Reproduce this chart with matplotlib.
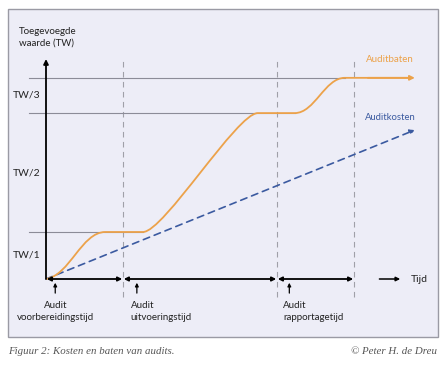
import matplotlib
matplotlib.use("Agg")
import matplotlib.pyplot as plt
from matplotlib.path import Path
from matplotlib.patches import PathPatch, Rectangle

# phases on the time axis (in phase units)
phase_bounds = [0, 1, 3, 4]
phase_labels = ["Audit\nvoorbereidingstijd", "Audit\nuitvoeringstijd", "Audit\nrapportagetijd"]
phase_marks = [0.12, 1.18, 3.16]

# value levels (TW bands)
levels = [0, 1.0, 3.53, 4.28]
level_labels = ["TW/1", "TW/2", "TW/3"]

# Auditbaten: flat steps (start, end of each rise)
baten_t = [0, 0.77, 1.26, 2.75, 3.23, 3.88, 4.79]
baten_v = [0, 1.0, 1.0, 3.53, 3.53, 4.28, 4.28]

# Auditkosten: straight line
kosten_t = [0, 4.79]
kosten_v = [0, 3.17]

ORANGE = "#eca24a"
BLUE = "#3b5aa0"
GRID = "#8c8c98"
FONT = "Lato"

fig = plt.figure(figsize=(4.46, 3.68), dpi=100)
fig.patch.set_facecolor("white")
ax = fig.add_axes([0, 0, 1, 1])
ax.set_xlim(-46 / 77, 400 / 77)
ax.set_ylim(-89 / 47, 279 / 47)
ax.axis("off")

# panel background
ax.add_patch(Rectangle((8 / 446, 1 - 337 / 368), 430 / 446, 328 / 368,
                       transform=fig.transFigure, fc="#ededf7", ec="#9a9aa4",
                       lw=1.0, zorder=0))

# horizontal level lines
ends = [baten_t[2], baten_t[4], baten_t[5]]
for lv, te in zip(levels[1:], ends):
    ax.plot([-0.22, te], [lv, lv], color=GRID, lw=0.8, zorder=2)
for i, lab in enumerate(level_labels):
    ax.text(-0.25, (levels[i] + levels[i + 1]) / 2, lab, ha="center", va="center",
            fontsize=7.5, family=FONT, color="#222222")

# dashed vertical phase lines
for b in phase_bounds[1:]:
    ax.plot([b, b], [-0.38, 4.72], color="#a0a0a8", lw=0.8, ls=(0, (5, 4)), zorder=1)

# y axis
ax.annotate("", xy=(0, 4.68), xytext=(0, 0),
            arrowprops=dict(arrowstyle="-|>", color="black", lw=1.3,
                            mutation_scale=7, shrinkA=0, shrinkB=0), zorder=5)
ax.text(-0.35, 5.14, "Toegevoegde\nwaarde (TW)", ha="left", va="center",
        fontsize=7, family=FONT, linespacing=1.3, color="#222222")

# time axis double arrows
for a, b in zip(phase_bounds[:-1], phase_bounds[1:]):
    ax.annotate("", xy=(b - 0.01, 0), xytext=(a + 0.01, 0),
                arrowprops=dict(arrowstyle="<|-|>", color="black", lw=1.3,
                                mutation_scale=6, shrinkA=0, shrinkB=0), zorder=5)
ax.annotate("", xy=(4.6, 0), xytext=(4.33, 0),
            arrowprops=dict(arrowstyle="-|>", color="black", lw=1.1,
                            mutation_scale=6, shrinkA=0, shrinkB=0))
ax.text(4.74, 0, "Tijd", ha="left", va="center", fontsize=7.5, family=FONT, color="#222222")

# phase markers + labels
for i, (m, lab) in enumerate(zip(phase_marks, phase_labels)):
    ax.annotate("", xy=(m, -0.08), xytext=(m, -0.3),
                arrowprops=dict(arrowstyle="-|>", color="black", lw=0.9,
                                mutation_scale=5, shrinkA=0, shrinkB=0))
    if i == 0:
        ax.text(m, -0.69, lab, ha="center", va="center", fontsize=7, family=FONT,
                linespacing=1.5, multialignment="center", color="#222222")
    else:
        ax.text(m - 0.08, -0.69, lab, ha="left", va="center", fontsize=7, family=FONT,
                linespacing=1.5, color="#222222")

# Auditbaten curve: smooth S-shaped rises between flat parts
verts = [(baten_t[0], baten_v[0])]
codes = [Path.MOVETO]
for j in range(0, len(baten_t) - 1):
    t0, v0, t1, v1 = baten_t[j], baten_v[j], baten_t[j + 1], baten_v[j + 1]
    if v0 == v1:
        verts.append((t1, v1))
        codes.append(Path.LINETO)
    else:
        k = 0.4 if (t1 - t0) < 1 else 0.18
        d = k * (t1 - t0)
        verts += [(t0 + d, v0 + (0.25 if j == 0 else 0) * d), (t1 - d, v1), (t1, v1)]
        codes += [Path.CURVE4] * 3
ax.add_patch(PathPatch(Path(verts[:-1] + [(baten_t[-1] - 0.08, baten_v[-1])], codes),
                       fc="none", ec=ORANGE, lw=1.3, zorder=4))
ax.annotate("", xy=(baten_t[-1], baten_v[-1]), xytext=(baten_t[-2] + 0.3, baten_v[-1]),
            arrowprops=dict(arrowstyle="-|>", color=ORANGE, lw=1.3,
                            mutation_scale=7, shrinkA=0, shrinkB=0), zorder=4)
ax.text(4.78, 4.67, "Auditbaten", ha="right", va="center", fontsize=7,
        family=FONT, color=ORANGE)

# Auditkosten dashed arrow
ax.annotate("", xy=(kosten_t[1], kosten_v[1]), xytext=(kosten_t[0], kosten_v[0]),
            arrowprops=dict(arrowstyle="-|>", color=BLUE, lw=1.2, ls=(0, (4, 3)),
                            mutation_scale=7, shrinkA=0, shrinkB=0), zorder=3)
ax.text(4.8, 3.43, "Auditkosten", ha="right", va="center", fontsize=6.8,
        family=FONT, color=BLUE)

# caption below the panel
fig.text(8 / 446, 1 - 352 / 368, "Figuur 2: Kosten en baten van audits.", ha="left",
         va="center", fontsize=7.8, family="Liberation Serif", style="italic", color="#555555")
fig.text(437 / 446, 1 - 352 / 368, "\u00a9 Peter H. de Dreu", ha="right",
         va="center", fontsize=7.8, family="Liberation Serif", style="italic", color="#555555")

fig.savefig("out.png", dpi=100)
